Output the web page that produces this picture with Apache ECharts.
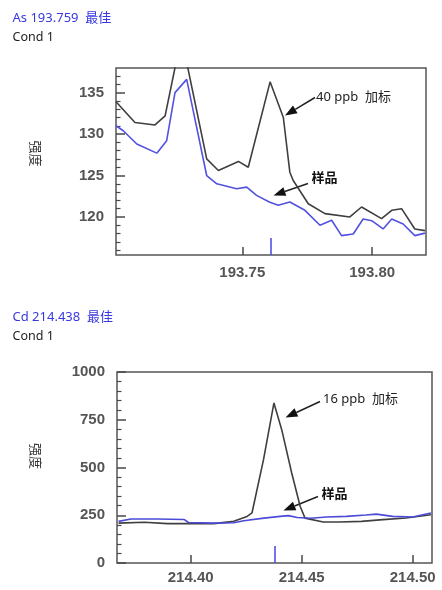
<!DOCTYPE html>
<html>
<head>
<meta charset="utf-8">
<script src="https://cdn.jsdelivr.net/npm/echarts@6/dist/echarts.min.js"></script>
<style>
  html, body { margin: 0; padding: 0; background: #fff; }
  #main { width: 442px; height: 590px; }
</style>
</head>
<body>
<div id="main"></div>
<script>
// As 193.759 - spike (40 ppb) and sample
const asSpikeX = [193.7014, 193.7087, 193.7164, 193.7203, 193.7245, 193.7285, 193.7363, 193.7408, 193.7485, 193.7523,
  193.7607, 193.7658, 193.7683, 193.7696, 193.7754, 193.7818, 193.7914, 193.7959, 193.8036, 193.8075, 193.8113, 193.8164, 193.8203];
const asSpikeY = [133.9, 131.4, 131.1, 132.2, 138.6, 138.8, 127.0, 125.6, 126.7, 126.0,
  136.3, 132.0, 125.4, 124.4, 121.6, 120.4, 120.0, 121.2, 119.8, 120.8, 121.0, 118.55, 118.35];
const asSampleX = [193.7014, 193.7042, 193.7094, 193.7171, 193.7209, 193.7241, 193.7286, 193.7363, 193.7402, 193.7478,
  193.7517, 193.7555, 193.7604, 193.7638, 193.7683, 193.7741, 193.7799, 193.7844, 193.7882, 193.7927, 193.7965, 193.7998,
  193.8042, 193.8075, 193.8119, 193.8164, 193.8203];
const asSampleY = [131.0, 130.4, 128.8, 127.7, 129.2, 135.0, 136.6, 125.0, 124.0, 123.4,
  123.6, 122.6, 121.8, 121.4, 121.8, 120.8, 119.0, 119.6, 117.75, 117.95, 119.75, 119.55,
  118.55, 119.75, 119.15, 117.75, 118.05];
const asXTicks = [193.75, 193.80];
const asYTicks = [120, 125, 130, 135];
const asYMinor = [116, 117, 118, 119, 121, 122, 123, 124, 126, 127, 128, 129, 131, 132, 133, 134, 136, 137];
const asMarker = 193.761;

// Cd 214.438 - spike (16 ppb) and sample
const cdSpikeX = [214.3675, 214.3791, 214.3896, 214.4000, 214.4104, 214.4194, 214.4254, 214.4276, 214.4328, 214.4375,
  214.4410, 214.4455, 214.4493, 214.4515, 214.4597, 214.4672, 214.4769, 214.4866, 214.4970, 214.5082];
const cdSpikeY = [209, 213, 206, 206, 206, 218, 244, 262, 541, 838,
  698, 471, 297, 235, 215, 215, 218, 227, 236, 253];
const cdSampleX = [214.3675, 214.3731, 214.3850, 214.3970, 214.3990, 214.4100, 214.4194, 214.4239, 214.4330, 214.4403,
  214.4440, 214.4480, 214.4540, 214.4612, 214.4701, 214.4790, 214.4836, 214.4910, 214.5000, 214.5082];
const cdSampleY = [218, 230, 230, 228, 212, 209, 211, 221, 235, 244,
  248, 238, 234, 241, 244, 251, 256, 244, 241, 262];
const cdXTicks = [214.40, 214.45, 214.50];
const cdYTicks = [0, 250, 500, 750, 1000];
const cdYMinor = [50, 100, 150, 200, 300, 350, 400, 450, 550, 600, 650, 700, 800, 850, 900, 950];
const cdMarker = 214.438;

const pairs = (xs, ys) => xs.map((x, i) => [x, ys[i]]);

const tickColor = '#4a4a4a';
const labelStyle = { color: '#555', fontSize: 15, fontWeight: 'bold', fontFamily: 'Liberation Sans' };
const cjk = '"Noto Sans", "Noto Sans CJK SC"';

function mainX(grid, min, max, ticks, margin) {
  return {
    type: 'value', gridIndex: grid, position: 'bottom', min: min, max: max,
    axisLine: { show: false }, splitLine: { show: false },
    axisTick: { show: true, inside: true, length: 8, customValues: ticks, lineStyle: { color: tickColor, width: 1.5 } },
    axisLabel: Object.assign({ customValues: ticks, margin: margin, formatter: v => v.toFixed(2) }, labelStyle)
  };
}
function markerX(grid, min, max, val) {
  return {
    type: 'value', gridIndex: grid, position: 'bottom', min: min, max: max,
    axisLine: { show: false }, splitLine: { show: false }, axisLabel: { show: false },
    axisTick: { show: true, inside: true, length: 17, customValues: [val], lineStyle: { color: '#4646e6', width: 1.5 } }
  };
}
function mainY(grid, min, max, ticks) {
  return {
    type: 'value', gridIndex: grid, position: 'left', min: min, max: max,
    axisLine: { show: false }, splitLine: { show: false },
    axisTick: { show: true, inside: true, length: 9, customValues: ticks, lineStyle: { color: tickColor, width: 1.5 } },
    axisLabel: Object.assign({ customValues: ticks, margin: 12, formatter: v => String(Math.round(v)) }, labelStyle)
  };
}
function minorY(grid, min, max, ticks) {
  return {
    type: 'value', gridIndex: grid, position: 'left', min: min, max: max,
    axisLine: { show: false }, splitLine: { show: false }, axisLabel: { show: false },
    axisTick: { show: true, inside: true, length: 4.5, customValues: ticks, lineStyle: { color: tickColor, width: 1.2 } }
  };
}
function line(name, xi, yi, data, color, w) {
  return {
    name: name, type: 'line', xAxisIndex: xi, yAxisIndex: yi, data: data,
    showSymbol: false, symbol: 'none', clip: true, animation: false,
    lineStyle: { color: color, width: w }
  };
}

function text(str, x, y, opts) {
  return {
    type: 'text', x: x, y: y, rotation: (opts && opts.rot) || 0,
    style: Object.assign({ text: str, font: '12px ' + cjk, fill: '#222', align: 'left', verticalAlign: 'middle' }, opts && opts.style)
  };
}
function arrow(fx, fy, tx, ty) {
  const dx = tx - fx, dy = ty - fy, len = Math.hypot(dx, dy);
  const ux = dx / len, uy = dy / len, L = 12, W = 4.5;
  const bx = tx - ux * L, by = ty - uy * L;
  return {
    type: 'group', children: [
      { type: 'line', shape: { x1: fx, y1: fy, x2: bx, y2: by }, style: { stroke: '#222', lineWidth: 1.5 } },
      { type: 'polygon', shape: { points: [[tx, ty], [bx - uy * W, by + ux * W], [bx + uy * W, by - ux * W]] }, style: { fill: '#111' } }
    ]
  };
}

const chart = echarts.init(document.getElementById('main'));
chart.setOption({
  animation: false,
  backgroundColor: '#fff',
  grid: [
    { left: 116, top: 68, width: 310, height: 187, show: true, borderColor: '#555', borderWidth: 1.5, backgroundColor: '#fff' },
    { left: 117, top: 372, width: 315, height: 191, show: true, borderColor: '#555', borderWidth: 1.5, backgroundColor: '#fff' }
  ],
  xAxis: [
    mainX(0, 193.7014, 193.8207, asXTicks, 10),
    markerX(0, 193.7014, 193.8207, asMarker),
    mainX(1, 214.3668, 214.5087, cdXTicks, 7),
    markerX(1, 214.3668, 214.5087, cdMarker)
  ],
  yAxis: [
    mainY(0, 115.41, 137.97, asYTicks),
    minorY(0, 115.41, 137.97, asYMinor),
    mainY(1, 0, 1000, cdYTicks),
    minorY(1, 0, 1000, cdYMinor)
  ],
  series: [
    line('40 ppb 加标', 0, 0, pairs(asSpikeX, asSpikeY), '#3f3f3f', 1.6),
    line('样品', 0, 0, pairs(asSampleX, asSampleY), '#5252e0', 1.6),
    line('16 ppb 加标', 2, 2, pairs(cdSpikeX, cdSpikeY), '#3f3f3f', 1.6),
    line('样品', 2, 2, pairs(cdSampleX, cdSampleY), '#4b4bd8', 1.6)
  ],
  graphic: [
    text('As 193.759  最佳', 12.5, 18, { style: { fill: '#3838e0', font: '13px ' + cjk } }),
    text('Cond 1', 12.5, 37, { style: { font: '12.5px ' + cjk } }),
    text('Cd 214.438  最佳', 12.5, 317, { style: { fill: '#3838e0', font: '13px ' + cjk } }),
    text('Cond 1', 12.5, 336.5, { style: { font: '12.5px ' + cjk } }),
    text('强度', 35, 153.5, { rot: -Math.PI / 2, style: { align: 'center', font: '13px ' + cjk, fill: '#333' } }),
    text('强度', 35, 456, { rot: -Math.PI / 2, style: { align: 'center', font: '13px ' + cjk, fill: '#333' } }),
    text('40 ppb  加标', 316, 97, { style: { font: '13px ' + cjk } }),
    arrow(315, 97.5, 285, 115.5),
    text('样品', 311.5, 178, { style: { font: 'bold 13px ' + cjk, fill: '#111' } }),
    arrow(308, 183.5, 273.5, 195.5),
    text('16 ppb  加标', 323, 399, { style: { font: '13px ' + cjk } }),
    arrow(320, 401.5, 285.5, 417.5),
    text('样品', 321.5, 494, { style: { font: 'bold 13px ' + cjk, fill: '#111' } }),
    arrow(318, 496.5, 283.5, 510.5)
  ]
});
</script>
</body>
</html>
